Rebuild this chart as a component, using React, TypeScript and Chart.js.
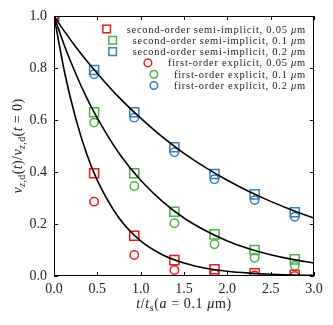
import React, { useEffect, useRef } from 'react';
import { Chart, registerables } from 'chart.js';

Chart.register(...registerables);

// Sample times (t / t_s)
const sampleTimes = [0, 0.463, 0.926, 1.389, 1.852, 2.315, 2.778];

// second-order semi-implicit (squares)
const semiImplicit005 = [1.0, 0.395, 0.155, 0.061, 0.026, 0.01, 0.005];
const semiImplicit01 = [1.0, 0.63, 0.395, 0.247, 0.16, 0.1, 0.064];
const semiImplicit02 = [1.0, 0.792, 0.63, 0.495, 0.392, 0.314, 0.245];

// first-order explicit (circles)
const explicit005 = [1.0, 0.286, 0.081, 0.023, 0.008, 0.002, 0.0005];
const explicit01 = [1.0, 0.59, 0.346, 0.203, 0.122, 0.07, 0.04];
const explicit02 = [1.0, 0.776, 0.609, 0.476, 0.372, 0.292, 0.228];

// Reference (analytic) curves
const curveTimes = [0, 0.125, 0.25, 0.375, 0.5, 0.75, 1.0, 1.25, 1.5, 1.75, 2.0, 2.25, 2.5, 2.75, 3.0];
const curve005 = [1.0, 0.779, 0.607, 0.472, 0.368, 0.223, 0.135, 0.082, 0.05, 0.03, 0.018, 0.011, 0.007, 0.004, 0.0025];
const curve01 = [1.0, 0.882, 0.779, 0.687, 0.607, 0.472, 0.368, 0.287, 0.223, 0.174, 0.135, 0.105, 0.082, 0.064, 0.05];
const curve02 = [1.0, 0.939, 0.882, 0.829, 0.779, 0.687, 0.607, 0.535, 0.472, 0.417, 0.368, 0.325, 0.287, 0.253, 0.223];

const xTicks = [0, 0.5, 1.0, 1.5, 2.0, 2.5, 3.0];
const yTicks = [0, 0.2, 0.4, 0.6, 0.8, 1.0];

const legendLabels = [
  'second-order semi-implicit, 0.05 ',
  'second-order semi-implicit, 0.1 ',
  'second-order semi-implicit, 0.2 ',
  'first-order explicit, 0.05 ',
  'first-order explicit, 0.1 ',
  'first-order explicit, 0.2 ',
];

const RED = '#e41a1c';
const GREEN = '#4daf4a';
const BLUE = '#377eb8';
const FONT = '"Liberation Serif", "DejaVu Serif", serif';

type Seg = { t: string; it?: boolean; sub?: boolean };

function drawRich(ctx: CanvasRenderingContext2D, segs: Seg[], x: number, y: number, size: number, align: 'left' | 'center' | 'right', spacing = 0) {
  const fontFor = (s: Seg) => `${s.it ? 'italic ' : ''}${s.sub ? Math.round(size * 0.7) : size}px ${FONT}`;
  let total = 0;
  (ctx as any).letterSpacing = '0px';
  const widths = segs.map((s) => {
    ctx.font = fontFor(s);
    const w = ctx.measureText(s.t).width + spacing * s.t.length;
    total += w;
    return w;
  });
  let cx = align === 'left' ? x : align === 'center' ? x - total / 2 : x - total;
  ctx.textAlign = 'left';
  ctx.textBaseline = 'alphabetic';
  segs.forEach((s, i) => {
    ctx.font = fontFor(s);
    (ctx as any).letterSpacing = `${spacing}px`;
    ctx.fillText(s.t, cx, y + (s.sub ? size * 0.22 : 0));
    cx += widths[i];
  });
  (ctx as any).letterSpacing = '0px';
  return total;
}

const framePlugin = {
  id: 'framePlugin',
  afterDraw(chart: any) {
    const { ctx, chartArea } = chart;
    const { left, right, top, bottom } = chartArea;
    const xs = chart.scales.x;
    const ys = chart.scales.y;
    ctx.save();
    ctx.strokeStyle = '#000';
    ctx.lineWidth = 1;
    ctx.strokeRect(left + 0.5, top + 0.5, right - left - 1, bottom - top - 1);
    ctx.beginPath();
    const tl = 4;
    xTicks.forEach((v) => {
      const px = Math.round(xs.getPixelForValue(v)) + 0.5;
      ctx.moveTo(px, bottom);
      ctx.lineTo(px, bottom - tl);
      ctx.moveTo(px, top);
      ctx.lineTo(px, top + tl);
    });
    yTicks.forEach((v) => {
      const py = Math.round(ys.getPixelForValue(v)) + 0.5;
      ctx.moveTo(left, py);
      ctx.lineTo(left + tl, py);
      ctx.moveTo(right, py);
      ctx.lineTo(right - tl, py);
    });
    ctx.stroke();

    // axis titles
    ctx.fillStyle = '#222';
    drawRich(ctx, [
      { t: 't', it: true }, { t: '/' }, { t: 't', it: true }, { t: 's', sub: true },
      { t: '(' }, { t: 'a', it: true }, { t: ' = 0.1 ' }, { t: 'μ', it: true }, { t: 'm)' },
    ], (left + right) / 2, 308, 14, 'center', 0.6);

    ctx.save();
    ctx.translate(22, (top + bottom) / 2);
    ctx.rotate(-Math.PI / 2);
    drawRich(ctx, [
      { t: 'v', it: true }, { t: 'z', it: true, sub: true }, { t: ',d', sub: true },
      { t: '(' }, { t: 't', it: true }, { t: ')/' },
      { t: 'v', it: true }, { t: 'z', it: true, sub: true }, { t: ',d', sub: true },
      { t: '(' }, { t: 't', it: true }, { t: ' = 0)' },
    ], 0, 0, 14, 'center', 0.4);
    ctx.restore();

    // legend
    const colors = [RED, GREEN, BLUE, RED, GREEN, BLUE];
    const textRight = 306;
    const size = 10.5;
    legendLabels.forEach((lab, i) => {
      const y = 29 + i * 11.3;
      ctx.fillStyle = '#222';
      const segs: Seg[] = [{ t: lab }, { t: 'μ', it: true }, { t: 'm' }];
      const w = drawRich(ctx, segs, textRight, y + 3.5, size, 'right', 0.75);
      const mx = textRight - w - 20;
      ctx.strokeStyle = colors[i];
      ctx.lineWidth = 1.5;
      ctx.beginPath();
      if (i < 3) {
        ctx.rect(mx - 3.8, y - 3.8, 7.6, 7.6);
      } else {
        ctx.arc(mx, y, 3.8, 0, Math.PI * 2);
      }
      ctx.stroke();
    });
    ctx.restore();
  },
};

function pts(xs: number[], ys: number[]) {
  return xs.map((x, i) => ({ x, y: ys[i] }));
}

export default function App() {
  const ref = useRef<HTMLCanvasElement>(null);
  useEffect(() => {
    document.body.style.margin = '0';
    const canvas = ref.current!;
    const markerSet = (data: number[], color: string, style: string, label: string) => ({
      type: 'scatter' as const,
      label,
      data: pts(sampleTimes, data),
      pointStyle: style,
      pointRadius: style === 'rect' ? 6.4 : 4.2,
      pointBorderWidth: 1.5,
      pointBorderColor: color,
      pointBackgroundColor: 'rgba(0,0,0,0)',
      showLine: false,
      clip: 0,
      order: 2,
    });
    const curveSet = (data: number[], label: string) => ({
      type: 'line' as const,
      label,
      data: pts(curveTimes, data),
      borderColor: '#000',
      borderWidth: 1.6,
      pointRadius: 0,
      cubicInterpolationMode: 'monotone' as const,
      fill: false,
      clip: 0,
      order: 1,
    });
    const chart = new Chart(canvas, {
      type: 'scatter',
      data: {
        datasets: [
          curveSet(curve005, 'exact 0.05'),
          curveSet(curve01, 'exact 0.1'),
          curveSet(curve02, 'exact 0.2'),
          markerSet(explicit005, RED, 'circle', 'first 0.05'),
          markerSet(explicit01, GREEN, 'circle', 'first 0.1'),
          markerSet(explicit02, BLUE, 'circle', 'first 0.2'),
          markerSet(semiImplicit005, RED, 'rect', 'second 0.05'),
          markerSet(semiImplicit01, GREEN, 'rect', 'second 0.1'),
          markerSet(semiImplicit02, BLUE, 'rect', 'second 0.2'),
        ] as any,
      },
      options: {
        animation: false,
        responsive: false,
        layout: { padding: { top: 16, right: 19, left: 0, bottom: 0 } },
        plugins: { legend: { display: false }, tooltip: { enabled: false } },
        scales: {
          x: {
            type: 'linear',
            min: 0,
            max: 3,
            afterFit: (s: any) => { s.height = 49; },
            afterBuildTicks: (s: any) => { s.ticks = xTicks.map((v) => ({ value: v })); },
            grid: { display: false, drawTicks: false },
            border: { display: false },
            ticks: {
              padding: 5,
              color: '#222',
              font: { family: FONT, size: 14 },
              callback: (v: any) => Number(v).toFixed(1),
              maxRotation: 0,
            },
          },
          y: {
            type: 'linear',
            min: 0,
            max: 1,
            afterFit: (s: any) => { s.width = 54; },
            afterBuildTicks: (s: any) => { s.ticks = yTicks.map((v) => ({ value: v })); },
            grid: { display: false, drawTicks: false },
            border: { display: false },
            ticks: {
              padding: 7,
              color: '#222',
              font: { family: FONT, size: 14 },
              callback: (v: any) => Number(v).toFixed(1),
            },
          },
        },
      },
      plugins: [framePlugin],
    });
    return () => chart.destroy();
  }, []);
  return (
    <div style={{ width: 333, height: 325 }}>
      <canvas ref={ref} width={333} height={325} style={{ display: 'block' }} />
    </div>
  );
}
